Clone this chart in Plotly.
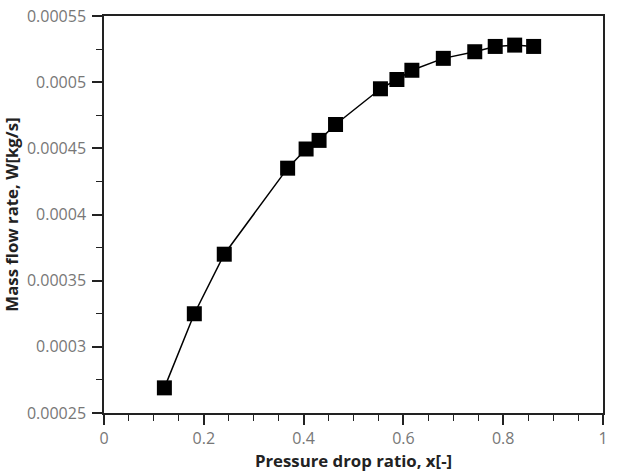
import plotly.graph_objects as go

pressure_drop_ratio = [0.121, 0.181, 0.241, 0.368, 0.405, 0.431, 0.464, 0.554, 0.587, 0.617, 0.680, 0.743, 0.784, 0.823, 0.861]
mass_flow_rate = [0.000269, 0.000325, 0.000370, 0.000435, 0.0004495, 0.000456, 0.000468, 0.000495, 0.000502, 0.000509, 0.000518, 0.000523, 0.000527, 0.000528, 0.000527]

x_ticks = [0, 0.2, 0.4, 0.6, 0.8, 1]
x_tick_labels = ["0", "0.2", "0.4", "0.6", "0.8", "1"]
y_ticks = [0.00025, 0.0003, 0.00035, 0.0004, 0.00045, 0.0005, 0.00055]
y_tick_labels = ["0.00025", "0.0003", "0.00035", "0.0004", "0.00045", "0.0005", "0.00055"]

fig = go.Figure()
fig.add_trace(go.Scatter(
    x=pressure_drop_ratio, y=mass_flow_rate, mode="lines+markers",
    line=dict(color="black", width=1.5),
    marker=dict(symbol="square", size=15, color="black"),
    showlegend=False,
))

axis_common = dict(
    showline=True, linecolor="#222", linewidth=1.5, mirror=True,
    showgrid=False, zeroline=False, automargin=False,
    ticks="outside", ticklen=10, tickwidth=1.5, tickcolor="#222",
    tickfont=dict(family="Open Sans", size=16, color="#777"),
)

fig.update_xaxes(
    range=[0, 1], tickvals=x_ticks, ticktext=x_tick_labels,
    minor=dict(ticks="outside", ticklen=6, tickwidth=1.2, tickcolor="#222", dtick=0.05, tick0=0),
    title=dict(text="<b>Pressure drop ratio, x[-]</b>", font=dict(family="Open Sans", size=16.8, color="#222"), standoff=2),
    **axis_common,
)
fig.update_yaxes(
    range=[0.00025, 0.00055], tickvals=y_ticks, ticktext=y_tick_labels,
    ticklabelstandoff=3,
    minor=dict(ticks="outside", ticklen=6, tickwidth=1.2, tickcolor="#222", dtick=0.000025, tick0=0.00025),
    title=dict(text="<b>Mass flow rate, W[kg/s]</b>", font=dict(family="Open Sans", size=16.8, color="#222"), standoff=4),
    **axis_common,
)

fig.update_layout(
    width=617, height=475,
    margin=dict(l=104, r=14, t=16, b=62),
    plot_bgcolor="white", paper_bgcolor="white",
)

fig.write_html("out.html")
